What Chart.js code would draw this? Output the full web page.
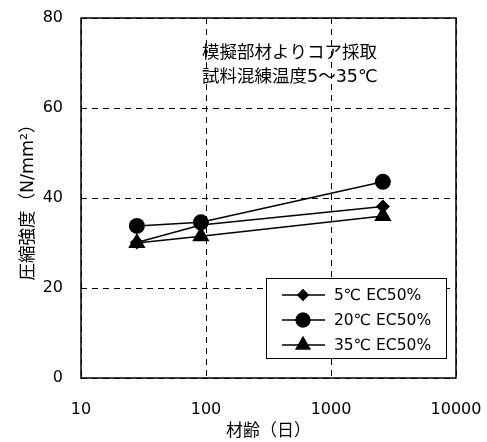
<!DOCTYPE html>
<html>
<head>
<meta charset="utf-8">
<script src="https://cdn.jsdelivr.net/npm/chart.js@4/dist/chart.umd.min.js"></script>
<style>
  html, body { margin: 0; padding: 0; background: #fff; }
  #wrap { width: 487px; height: 442px; }
</style>
</head>
<body>
<div id="wrap"><canvas id="chart" width="487" height="442"></canvas></div>
<script>
// ages in days (log scale) and strength values
let ages = [28, 91, 2600]
let strength5 = [30.1, 34.0, 38.1]
let strength20 = [33.8, 34.6, 43.6]
let strength35 = [30.0, 31.5, 36.0]
let seriesNames = ['5℃ EC50%', '20℃ EC50%', '35℃ EC50%']
let xTicks = [10, 100, 1000, 10000]
let yTicks = [0, 20, 40, 60, 80]
let noteLines = ['模擬部材よりコア採取', '試料混練温度5～35℃']

let fontFamily = '"DejaVu Sans", "Noto Sans CJK JP", sans-serif'

// make {x, y} points from the arrays
let toPoints = function(values) {
    return ages.map(function(a, i) { return { x: a, y: values[i] } })
}

let makeSet = function(label, values, style, radius) {
    return {
        label: label,
        data: toPoints(values),
        showLine: true,
        borderColor: '#000',
        backgroundColor: '#000',
        borderWidth: 1.5,
        pointStyle: style,
        pointRadius: radius,
        pointHoverRadius: radius,
        pointBackgroundColor: '#000',
        pointBorderColor: '#000',
        pointBorderWidth: 0
    }
}

// frame, note text and legend box drawn on top of the chart
let extras = {
    id: 'extras',
    afterDatasetsDraw: function(chart) {
        let ctx = chart.ctx
        let a = chart.chartArea
        ctx.save()
        ctx.strokeStyle = '#000'
        ctx.lineWidth = 1.5
        ctx.setLineDash([])
        ctx.strokeRect(a.left, a.top, a.right - a.left, a.bottom - a.top)

        // note inside the plot
        ctx.fillStyle = '#000'
        ctx.font = '17.5px ' + fontFamily
        ctx.textBaseline = 'middle'
        ctx.textAlign = 'left'
        ctx.fillText(noteLines[0], 202, 53)
        ctx.fillText(noteLines[1], 202, 77)

        // legend box
        ctx.fillStyle = '#fff'
        ctx.fillRect(266, 278, 180, 80)
        ctx.lineWidth = 1
        ctx.strokeRect(266.5, 278.5, 180, 80)
        let rowY = [295, 320, 345]
        let legendRadius = [6, 7.5, 9]
        chart.data.datasets.forEach(function(ds, i) {
            ctx.strokeStyle = '#000'
            ctx.lineWidth = 1.5
            ctx.beginPath()
            ctx.moveTo(282, rowY[i])
            ctx.lineTo(325, rowY[i])
            ctx.stroke()
            ctx.fillStyle = '#000'
            Chart.helpers.drawPoint(ctx, { pointStyle: ds.pointStyle, radius: legendRadius[i], borderWidth: 0, rotation: 0 }, 303, rowY[i])
            ctx.fill()
            ctx.font = '15.5px ' + fontFamily
            ctx.fillText(ds.label, 334, rowY[i] + 1)
        })
        ctx.restore()
    }
}

let ctx = document.getElementById('chart').getContext('2d')
let chart = new Chart(ctx, {
    type: 'scatter',
    data: {
        datasets: [
            makeSet(seriesNames[0], strength5, 'rectRot', 7),
            makeSet(seriesNames[1], strength20, 'circle', 8),
            makeSet(seriesNames[2], strength35, 'triangle', 10)
        ]
    },
    options: {
        responsive: false,
        animation: false,
        layout: { padding: { left: 0, right: 31, top: 18, bottom: 0 } },
        plugins: {
            legend: { display: false },
            tooltip: { enabled: false }
        },
        scales: {
            x: {
                type: 'logarithmic',
                min: 10,
                max: 10000,
                afterBuildTicks: function(scale) {
                    scale.ticks = xTicks.map(function(v) { return { value: v } })
                },
                afterFit: function(scale) {
                    scale.height = 64
                    scale.paddingLeft = 0
                    scale.paddingRight = 0
                },
                ticks: {
                    color: '#000',
                    font: { family: fontFamily, size: 16 },
                    padding: 22,
                    maxRotation: 0,
                    autoSkip: false,
                    callback: function(v) { return String(v) }
                },
                grid: { color: '#000', lineWidth: 1, drawTicks: false },
                border: { display: false, dash: [6, 5] },
                title: {
                    display: true,
                    text: '材齢（日）',
                    color: '#000',
                    font: { family: fontFamily, size: 17 },
                    padding: { top: 0, bottom: 0 }
                }
            },
            y: {
                min: 0,
                max: 80,
                afterBuildTicks: function(scale) {
                    scale.ticks = yTicks.map(function(v) { return { value: v } })
                },
                afterFit: function(scale) {
                    scale.width = 81
                    scale.paddingTop = 0
                    scale.paddingBottom = 0
                },
                ticks: {
                    color: '#000',
                    font: { family: fontFamily, size: 16 },
                    padding: 18
                },
                grid: { color: '#000', lineWidth: 1, drawTicks: false },
                border: { display: false, dash: [6, 5] },
                title: {
                    display: true,
                    text: '圧縮強度（N/mm²）',
                    color: '#000',
                    font: { family: fontFamily, size: 17.5 },
                    padding: { top: 18, bottom: 0 }
                }
            }
        }
    },
    plugins: [extras]
})
</script>
</body>
</html>
